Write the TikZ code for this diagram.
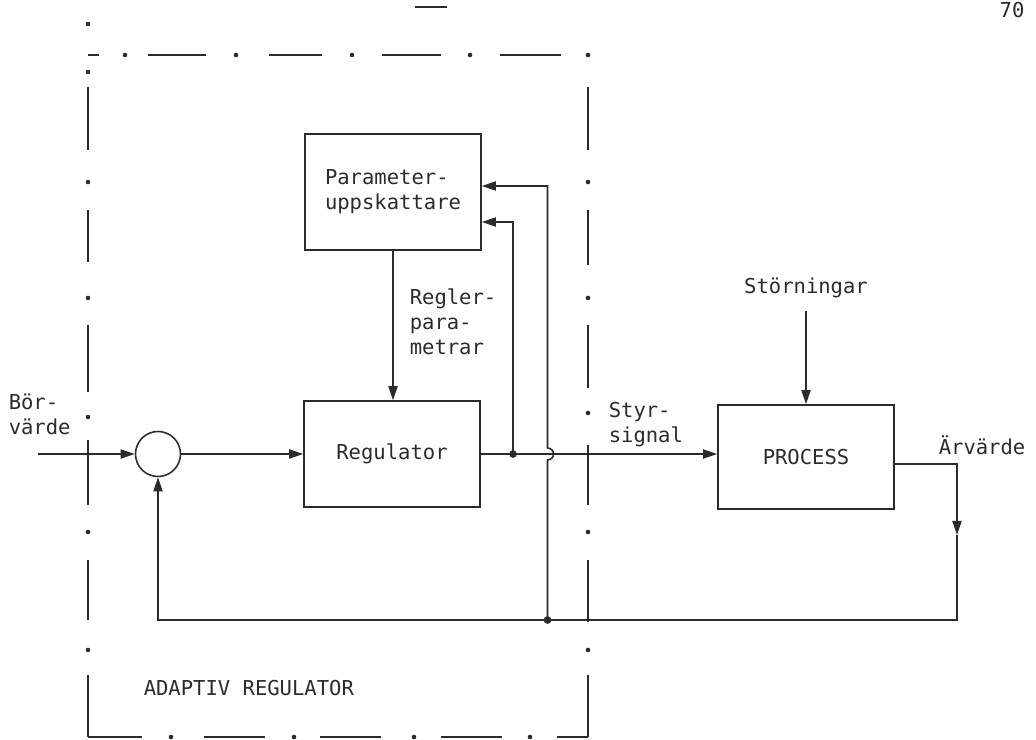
\documentclass[tikz,border=0pt]{standalone}
\usepackage{fontspec}
\setmonofont{DejaVu Sans Mono}
\usetikzlibrary{arrows.meta,positioning,calc}
\definecolor{cink}{HTML}{2B2B2B}
\newcommand\typ{\fontsize{14.6}{17.8}\selectfont\ttfamily}

\begin{document}
\begin{tikzpicture}[x=0.025cm, y=-0.025cm, font=\typ, color=cink, line width=1.1pt,
  blk/.style={draw, inner sep=0pt, align=left},
  sig/.style={-{Triangle[length=10pt,width=6.5pt]}},
  lbl/.style={inner sep=0pt, align=left},
  jn/.style={circle, fill, inner sep=0pt, minimum size=5.5pt}]
\useasboundingbox (0,0) rectangle (1036,740);
%% ------------------------------------------------------------------ frame
% the dash-dot border of the adaptive regulator
\foreach \a/\b in {88/99,148/206,269/322,382/441,500/561} \draw (\a,55) -- (\b,55);
\foreach \x in {125,236,352,470,588} \fill (\x,55) circle[radius=2.3];
\foreach \a/\b in {87/150,210/262,325/392,440/505,560/620,675/737} \draw (88,\a) -- (88,\b);
\foreach \y in {72,182,298,417,532,650} \fill (88,\y) circle[radius=2.3];
\foreach \a/\b in {87/150,210/265,325/388,445/505,560/622,675/737} \draw (588,\a) -- (588,\b);
\foreach \y in {182,298,413,532,650} \fill (588,\y) circle[radius=2.3];
\foreach \a/\b in {88/142,204/265,320/381,441/502,557/588} \draw (\a,737) -- (\b,737);
\foreach \x in {171,294,414,530} \fill (\x,737) circle[radius=2.3];
% stray marks of the page
\fill (88,24) circle[radius=2.3];
\draw (415,7) -- (447,7);
%% ------------------------------------------------------------------ blocks
\node[blk, minimum width=4.4cm, minimum height=2.9cm] (est) at (393,192) {Parameter-\\uppskattare};
\node[blk, minimum width=4.4cm, minimum height=2.65cm] (reg) at (392,454) {Regulator};
\node[draw, circle, minimum size=1.125cm, inner sep=0pt] (sum) at (158,454) {};
\node[blk, minimum width=4.4cm, minimum height=2.6cm] (proc) at (806,457) {PROCESS};
%% ------------------------------------------------------------------ labels
\node[lbl, anchor=west] (bor) at (8,414) {Bör-\\värde};
\node[lbl, anchor=west] (rpar) at (409,322) {Regler-\\para-\\metrar};
\node[lbl, anchor=west] (styr) at (608,425) {Styr-\\signal};
\node[lbl] (dist) at (806,288) {Störningar};
\node[lbl, anchor=west] (arv) at (938,445) {Ärvärde};
\node[lbl, anchor=west] (adr) at (143,688) {ADAPTIV REGULATOR};
\node[lbl] (pnum) at (1012,10) {70};
%% ------------------------------------------------------------------ signals
\coordinate (in) at (38,454);
\coordinate (tap) at (513,454);
\coordinate (tapfb) at (547.5,620);
\coordinate (bend) at (957,535);
\coordinate (fb) at (957,620);
\draw[sig] (in) -- (sum);
\draw[sig] (sum) -- (reg);
\draw[sig] (reg.east) -- (reg.east -| proc.west);
\draw[sig] (est.south) -- (est.south |- reg.north);
\draw[sig] ([yshift=-0.3cm]proc.north |- dist.south) -- (proc.north);
% measured signal out of the process and back to the summing point
\draw[sig] ([yshift=-0.175cm]proc.east) -| (bend);
\draw[sig] (bend) -- (fb) -| (sum.south);
% both signals to the estimator, the second one hops over the control signal
\draw[sig] (tap) |- ([yshift=-0.75cm]est.east);
\draw[sig] (tapfb) -- ++(0,-160) arc[start angle=90, end angle=-90, radius=6] |- ([yshift=0.15cm]est.east);
\node[jn] (tapdot) at (tap) {};
\node[jn] (fbdot) at (tapfb) {};
\end{tikzpicture}
\end{document}
